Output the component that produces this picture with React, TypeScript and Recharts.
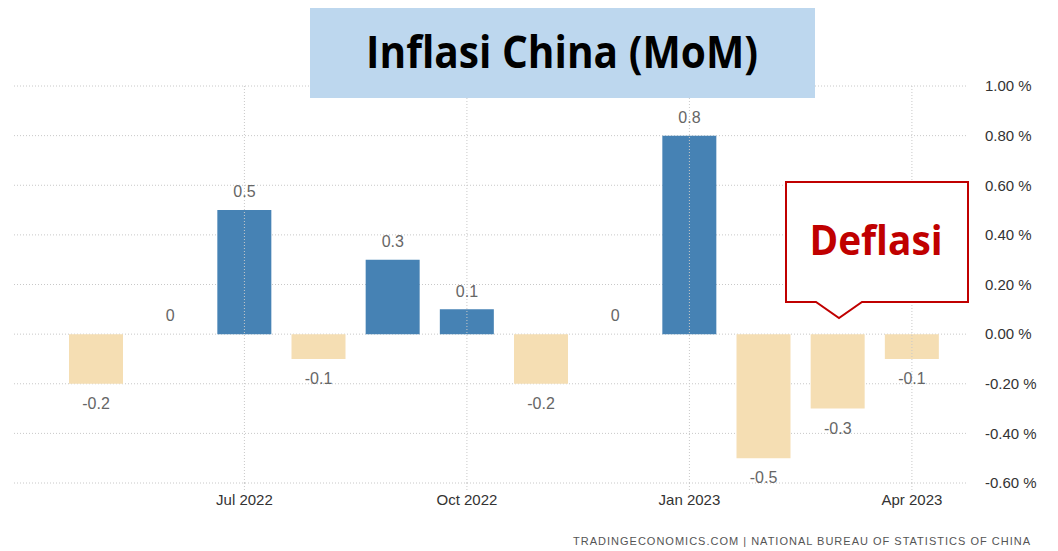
import { ComposedChart, Bar, Line, XAxis, YAxis, CartesianGrid, Cell, LabelList, ReferenceLine } from "recharts";

const months = [
  "May 2022", "Jun 2022", "Jul 2022", "Aug 2022", "Sep 2022", "Oct 2022",
  "Nov 2022", "Dec 2022", "Jan 2023", "Feb 2023", "Mar 2023", "Apr 2023",
];
const inflation = [-0.2, 0, 0.5, -0.1, 0.3, 0.1, -0.2, 0, 0.8, -0.5, -0.3, -0.1];
const xTicks = ["Jul 2022", "Oct 2022", "Jan 2023", "Apr 2023"];
const yTicks = [-0.6, -0.4, -0.2, 0, 0.2, 0.4, 0.6, 0.8, 1.0];

const data = months.map((month, i) => ({ month, value: inflation[i] }));

const FONT = "'Liberation Sans', Arial, sans-serif";
const GRID = "#c8c8c8";

// label sits above positive/zero bars, below negative ones
const ValueLabel = (props: any) => {
  const { x, y, value } = props;
  const ty = value < 0 ? y + 21 : y - 17;
  return (
    <text x={x} y={ty} textAnchor="middle" dominantBaseline="middle"
      fontSize={16} fontFamily={FONT} fill="#666">
      {String(value)}
    </text>
  );
};

export default function App() {
  return (
    <div style={{ position: "absolute", left: 0, top: 0, width: 1058, height: 551, background: "#fff" }}>
      <ComposedChart width={1058} height={551} data={data}
        margin={{ top: 86, right: 0, bottom: 38, left: 14 }}>
        <CartesianGrid stroke={GRID} strokeDasharray="1 2" vertical={false} />
        <XAxis dataKey="month" ticks={xTicks} padding={{ left: 45, right: 19 }}
          axisLine={false} tickSize={7} tickLine={{ stroke: GRID, strokeDasharray: "1 2" }}
          tickMargin={4}
          tick={{ fontSize: 15, fontFamily: FONT, fill: "#333" }} height={30} />
        <YAxis orientation="right" domain={[-0.6, 1]} ticks={yTicks} width={90}
          axisLine={false} tickLine={false} tickMargin={11}
          tickFormatter={(v: number) => v.toFixed(2) + " %"}
          tick={{ fontSize: 15, fontFamily: FONT, fill: "#333" }} />
        {xTicks.map((t) => (
          <ReferenceLine key={t} x={t} stroke={GRID} strokeDasharray="1 2" />
        ))}
        <Bar dataKey="value" barSize={54} isAnimationActive={false}>
          {data.map((d, i) => (
            <Cell key={i} fill={d.value < 0 ? "#F5DEB3" : "#4682B4"} />
          ))}
        </Bar>
        <Line dataKey="value" stroke="none" dot={false} activeDot={false} isAnimationActive={false}>
          <LabelList dataKey="value" content={ValueLabel} />
        </Line>
      </ComposedChart>
      <svg width={1058} height={551} style={{ position: "absolute", left: 0, top: 0, pointerEvents: "none" }}>
        <rect x={310} y={8} width={505} height={90} fill="#BDD7EE" />
        <text x={562} y={56} textAnchor="middle" dominantBaseline="middle"
          fontSize={44} fontWeight="bold" fontFamily="'Open Sans', sans-serif" fill="#000"
          textLength={392} lengthAdjust="spacingAndGlyphs">
          Inflasi China (MoM)
        </text>
        <path d="M786,182 H968 V302 H862 L839,318 L816,302 H786 Z" fill="#fff" stroke="#C00000" strokeWidth={2} />
        <text x={876} y={244} textAnchor="middle" dominantBaseline="middle"
          fontSize={42} fontWeight="bold" fontFamily="'Open Sans', sans-serif" fill="#C00000"
          textLength={133} lengthAdjust="spacingAndGlyphs">
          Deflasi
        </text>
        <text x={573} y={545} fontSize={11} fontFamily={FONT}
          fill="#555" textLength={457} lengthAdjust="spacing">
          TRADINGECONOMICS.COM | NATIONAL BUREAU OF STATISTICS OF CHINA
        </text>
      </svg>
    </div>
  );
}
